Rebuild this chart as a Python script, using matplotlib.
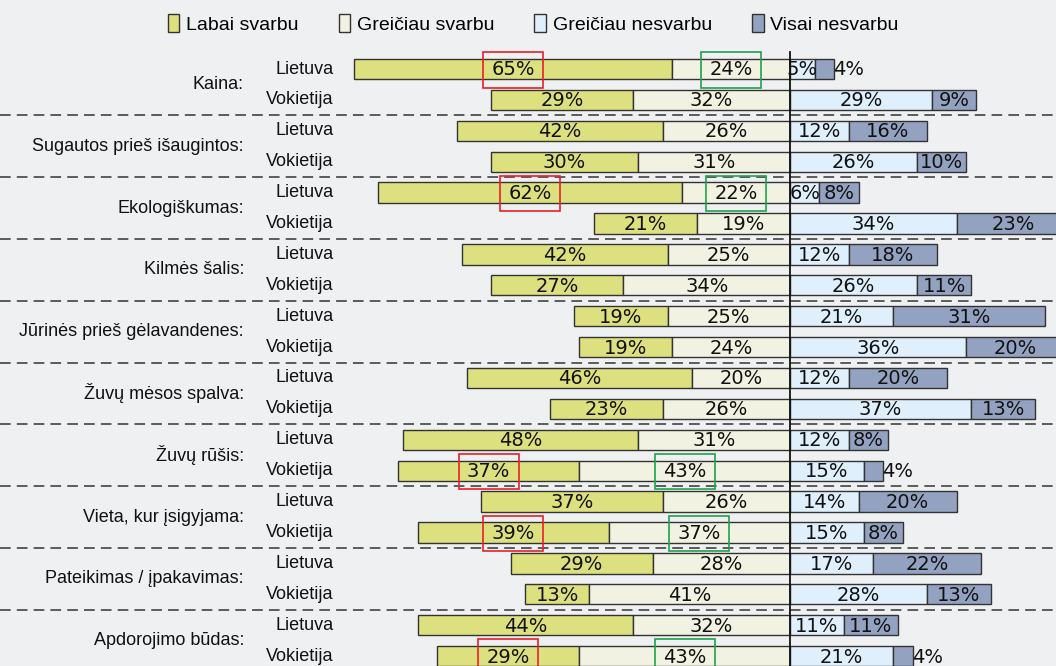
import numpy as np
import matplotlib.pyplot as plt
from matplotlib.patches import Patch

# Data
categories = [
    "Kaina:", "Sugautos prieš išaugintos:", "Ekologiškumas:", "Kilmės šalis:",
    "Jūrinės prieš gėlavandenes:", "Žuvų mėsos spalva:", "Žuvų rūšis:",
    "Vieta, kur įsigyjama:", "Pateikimas / įpakavimas:", "Apdorojimo būdas:",
]
countries = ["Lietuva", "Vokietija"]
series = ["Labai svarbu", "Greičiau svarbu", "Greičiau nesvarbu", "Visai nesvarbu"]

# rows: Lietuva, Vokietija for each category in turn
labai_svarbu = [65, 29, 42, 30, 62, 21, 42, 27, 19, 19, 46, 23, 48, 37, 37, 39, 29, 13, 44, 29]
greiciau_svarbu = [24, 32, 26, 31, 22, 19, 25, 34, 25, 24, 20, 26, 31, 43, 26, 37, 28, 41, 32, 43]
greiciau_nesvarbu = [5, 29, 12, 26, 6, 34, 12, 26, 21, 36, 12, 37, 12, 15, 14, 15, 17, 28, 11, 21]
visai_nesvarbu = [4, 9, 16, 10, 8, 23, 18, 11, 31, 20, 20, 13, 8, 4, 20, 8, 22, 13, 11, 4]

# (row, series index) of labels boxed in red / green
red_boxes = [(0, 0), (4, 0), (13, 0), (15, 0), (19, 0)]
green_boxes = [(0, 1), (4, 1), (13, 1), (15, 1), (19, 1)]

colors = ["#dde07e", "#f1f2e1", "#dfeffb", "#94a2c2"]
edge = "#333333"
bg = "#eff0f1"

fig = plt.figure(figsize=(10.56, 6.66), dpi=100, facecolor=bg)
ax = fig.add_axes([0, 0, 1, 1])
ax.set_facecolor(bg)
ax.axis("off")

n_rows = len(labai_svarbu)
y = np.arange(n_rows)
h = 0.66

ls = np.array(labai_svarbu)
gs = np.array(greiciau_svarbu)
gn = np.array(greiciau_nesvarbu)
vn = np.array(visai_nesvarbu)

# left side (important), right side (not important)
segments = [
    (-(ls + gs), ls),
    (-gs, gs),
    (np.zeros(n_rows), gn),
    (gn, vn),
]

for k, (left, width) in enumerate(segments):
    ax.barh(y, width, left=left, height=h, color=colors[k],
            edgecolor=edge, linewidth=1.0, zorder=3)
    for i in range(n_rows):
        v = width[i]
        cx = left[i] + v / 2
        if k == 3 and v <= 4:
            cx = left[i] + v + 3
        bbox = None
        if (i, k) in red_boxes:
            bbox = dict(boxstyle="square,pad=0.42", fc="none", ec="#e8202a", lw=1.2)
        elif (i, k) in green_boxes:
            bbox = dict(boxstyle="square,pad=0.42", fc="none", ec="#1fa34a", lw=1.2)
        ax.text(cx, y[i] + 0.03, f"{v}%", ha="center", va="center",
                fontsize=14, family="DejaVu Sans", color="#111111",
                zorder=5, bbox=bbox)

# separators between categories
for j in range(1, len(categories)):
    ax.axhline(2 * j - 0.5, color="#333333", lw=1.1, ls=(0, (7, 4)), zorder=1)

# centre line
ax.plot([0, 0], [-0.55, n_rows], color="#111111", lw=1.3, zorder=4)

# row / category labels
ytr = ax.get_yaxis_transform()
for j, cat in enumerate(categories):
    ax.text(0.231, 2 * j + 0.5, cat, transform=ytr, ha="right", va="center",
            fontsize=13, family="Liberation Sans", color="#111111")
    for c, name in enumerate(countries):
        ax.text(0.316, 2 * j + c, name, transform=ytr, ha="right", va="center",
                fontsize=13, family="Liberation Sans", color="#111111")

scale = 4.9  # px per percent
ax.set_xlim(-790 / scale, (1056 - 790) / scale)
ax.set_ylim((666 - 69) / 30.9, -69 / 30.9)

handles = [Patch(facecolor=colors[k], edgecolor=edge, lw=1.0) for k in range(4)]
leg = ax.legend(handles, series, ncol=4, loc="center",
                bbox_to_anchor=(0.505, 1 - 24 / 666), frameon=False,
                prop={"family": "Liberation Sans", "size": 14},
                handlelength=0.6, handleheight=1.0, handletextpad=0.35,
                columnspacing=2.05)

fig.savefig("out.png", dpi=100, facecolor=bg)
